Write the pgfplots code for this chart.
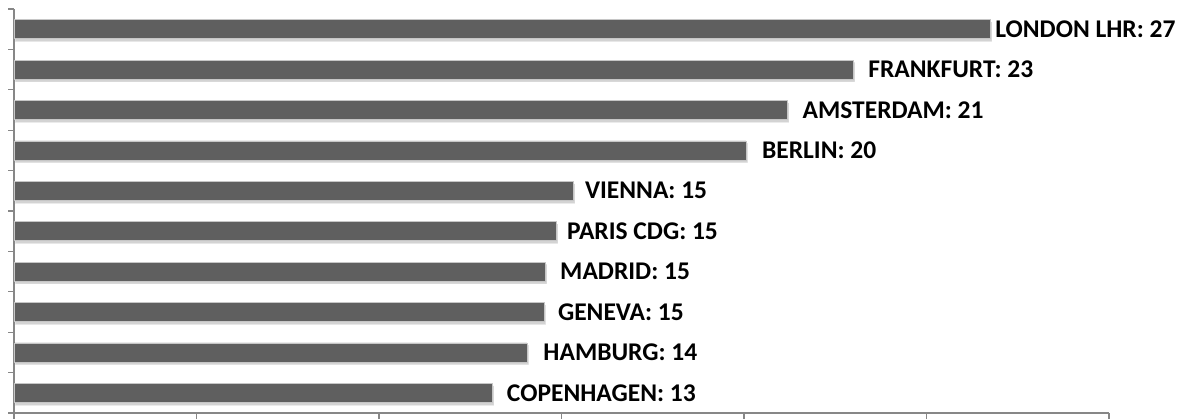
\documentclass[border=0pt]{standalone}
\usepackage{fontspec}
\setmainfont{Carlito}
\usepackage{pgfplots}
\pgfplotsset{compat=1.18}
\usetikzlibrary{shadows}

\definecolor{barfill}{HTML}{5F5F5F}
\definecolor{axgray}{HTML}{878787}

\begin{document}
\begin{tikzpicture}
\begin{axis}[
    scale only axis,
    width=1095pt,
    height=404pt,
    xmin=0, xmax=30,
    ymin=-0.5, ymax=9.5,
    xtick={0,5,...,30},
    ytick={-0.5,0.5,...,9.5},
    xticklabels={}, yticklabels={},
    axis x line*=bottom,
    axis y line*=left,
    axis line style={axgray, line width=1.2pt},
    tick style={axgray, line width=1.2pt},
    tick align=outside,
    major tick length=6pt,
    clip=false,
]
% bars: y index 0 = bottom
\addplot[xbar, bar width=19pt, fill=barfill, draw=gray!45, line width=0.6pt,
    drop shadow={shadow xshift=1.5pt, shadow yshift=-2.5pt, opacity=0.35}]
coordinates {
    (13.10,0) (14.05,1) (14.52,2) (14.55,3) (14.85,4)
    (15.32,5) (20.05,6) (21.18,7) (22.99,8) (26.74,9)
};
% labels
\addplot[draw=none, mark=none,
    nodes near coords,
    point meta=explicit symbolic,
    every node near coord/.append style={anchor=west, inner sep=0pt,
        font=\fontsize{25.5}{30}\selectfont\bfseries, text=black}]
coordinates {
    (13.50,0) [COPENHAGEN: 13]
    (14.50,1) [HAMBURG: 14]
    (14.90,2) [GENEVA: 15]
    (14.96,3) [MADRID: 15]
    (15.15,4) [PARIS CDG: 15]
    (15.64,5) [VIENNA: 15]
    (20.49,6) [BERLIN: 20]
    (21.60,7) [AMSTERDAM: 21]
    (23.40,8) [FRANKFURT: 23]
    (26.88,9) [LONDON LHR: 27]
};
\end{axis}
\pgfresetboundingbox
\path[use as bounding box] ([xshift=-14pt,yshift=-6pt]current axis.south west)
    rectangle ([xshift=73pt,yshift=9pt]current axis.north east);
\end{tikzpicture}
\end{document}
